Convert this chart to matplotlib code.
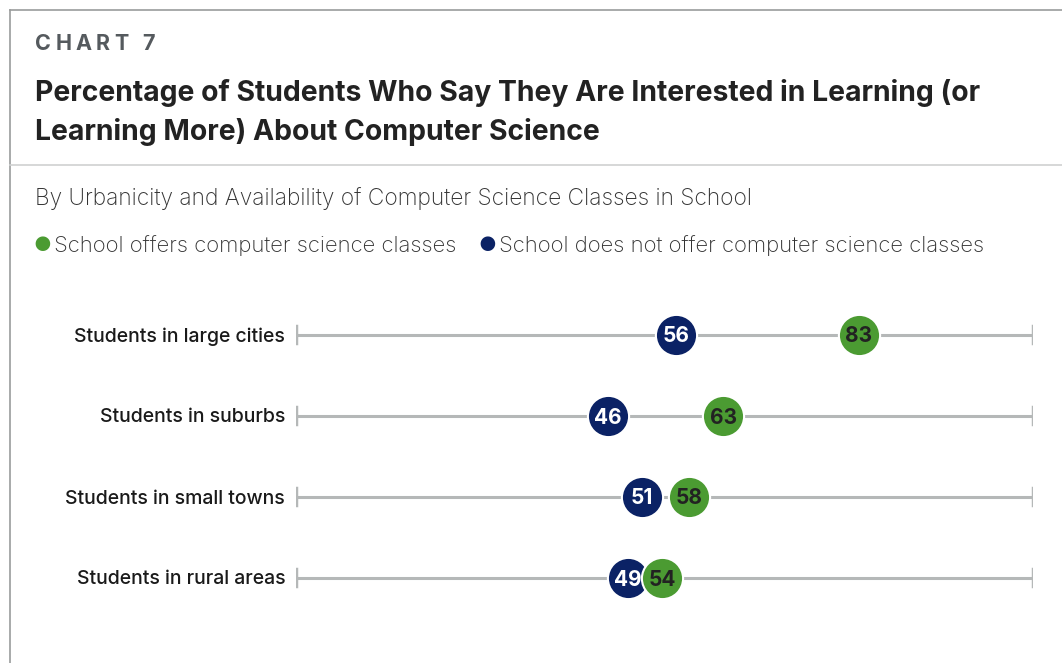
import matplotlib
matplotlib.use("Agg")
import matplotlib.pyplot as plt
from matplotlib.lines import Line2D

categories = ["Students in large cities", "Students in suburbs",
              "Students in small towns", "Students in rural areas"]
offers = [83, 63, 58, 54]
not_offers = [56, 46, 51, 49]
axis_range = [0, 108.7]

green = "#4b9b32"
navy = "#0b2265"
grey = "#b5b8b8"

plt.rcParams['font.family'] = ['Inter', 'DejaVu Sans']

W, H = 1062, 663
fig = plt.figure(figsize=(W / 100, H / 100), dpi=100)

def fx(px):
    return px / W

def fy(py):
    return 1 - py / H

# frame lines
fig.add_artist(Line2D([fx(10), fx(10)], [fy(10), fy(663)], color="#9a9c9c", lw=1.2))
fig.add_artist(Line2D([fx(10), fx(1062)], [fy(10), fy(10)], color="#9a9c9c", lw=1.2))
fig.add_artist(Line2D([fx(10), fx(1062)], [fy(165), fy(165)], color="#cfd1d1", lw=1.2))

# "CHART 7" with letter spacing
fig.canvas.draw()
renderer = fig.canvas.get_renderer()
x = 35
for ch in "CHART 7":
    t = fig.text(fx(x), fy(44), ch, fontsize=15.5, fontweight="bold",
                 color="#555a5e", va="center", ha="left")
    w = t.get_window_extent(renderer).width if ch != " " else 5
    x += w + 4.3

fig.text(fx(35), fy(93), "Percentage of Students Who Say They Are Interested in Learning (or",
         fontsize=20.4, fontweight="bold", color="#222222", va="center")
fig.text(fx(35), fy(132), "Learning More) About Computer Science",
         fontsize=20.4, fontweight="bold", color="#222222", va="center")
fig.text(fx(35), fy(199), "By Urbanicity and Availability of Computer Science Classes in School",
         fontsize=16.4, fontweight="light", color="#333333", va="center")

# legend
fig.text(fx(33), fy(246), "\u25CF", fontsize=14, color=green, va="center")
fig.text(fx(54), fy(246), "School offers computer science classes",
         fontsize=15.9, fontweight="light", color="#333333", va="center")
fig.text(fx(478), fy(246), "\u25CF", fontsize=14, color=navy, va="center")
fig.text(fx(499), fy(246), "School does not offer computer science classes",
         fontsize=15.9, fontweight="light", color="#333333", va="center")

# dot plot
ax = fig.add_axes([fx(296), fy(618), fx(1033 - 296), (618 - 294) / H])
ax.set_xlim(axis_range)
ax.set_ylim(3.5, -0.5)
ax.axis("off")

for i, cat in enumerate(categories):
    ax.plot(axis_range, [i, i], color=grey, lw=2.2, zorder=1, solid_capstyle="butt")
    ax.plot([axis_range[0]] * 2, [i - 0.1, i + 0.1], color=grey, lw=2.5, zorder=1)
    ax.plot([axis_range[1]] * 2, [i - 0.1, i + 0.1], color=grey, lw=2.5, zorder=1)
    ax.text(-1.6, i, cat, ha="right", va="center_baseline", fontsize=14,
            fontweight="medium", color="#1a1a1a")

ax.scatter(not_offers, range(len(categories)), s=880, color=navy,
           edgecolor="white", linewidth=1.5, zorder=3, clip_on=False)
ax.scatter(offers, range(len(categories)), s=880, color=green,
           edgecolor="white", linewidth=1.5, zorder=4, clip_on=False)
for i in range(len(categories)):
    ax.text(not_offers[i], i, str(not_offers[i]), ha="center", va="center_baseline",
            fontsize=15, fontweight="bold", color="white", zorder=3.5)
    ax.text(offers[i], i, str(offers[i]), ha="center", va="center_baseline",
            fontsize=15, fontweight="bold", color="#222222", zorder=5)

fig.savefig("out.png", dpi=100)
